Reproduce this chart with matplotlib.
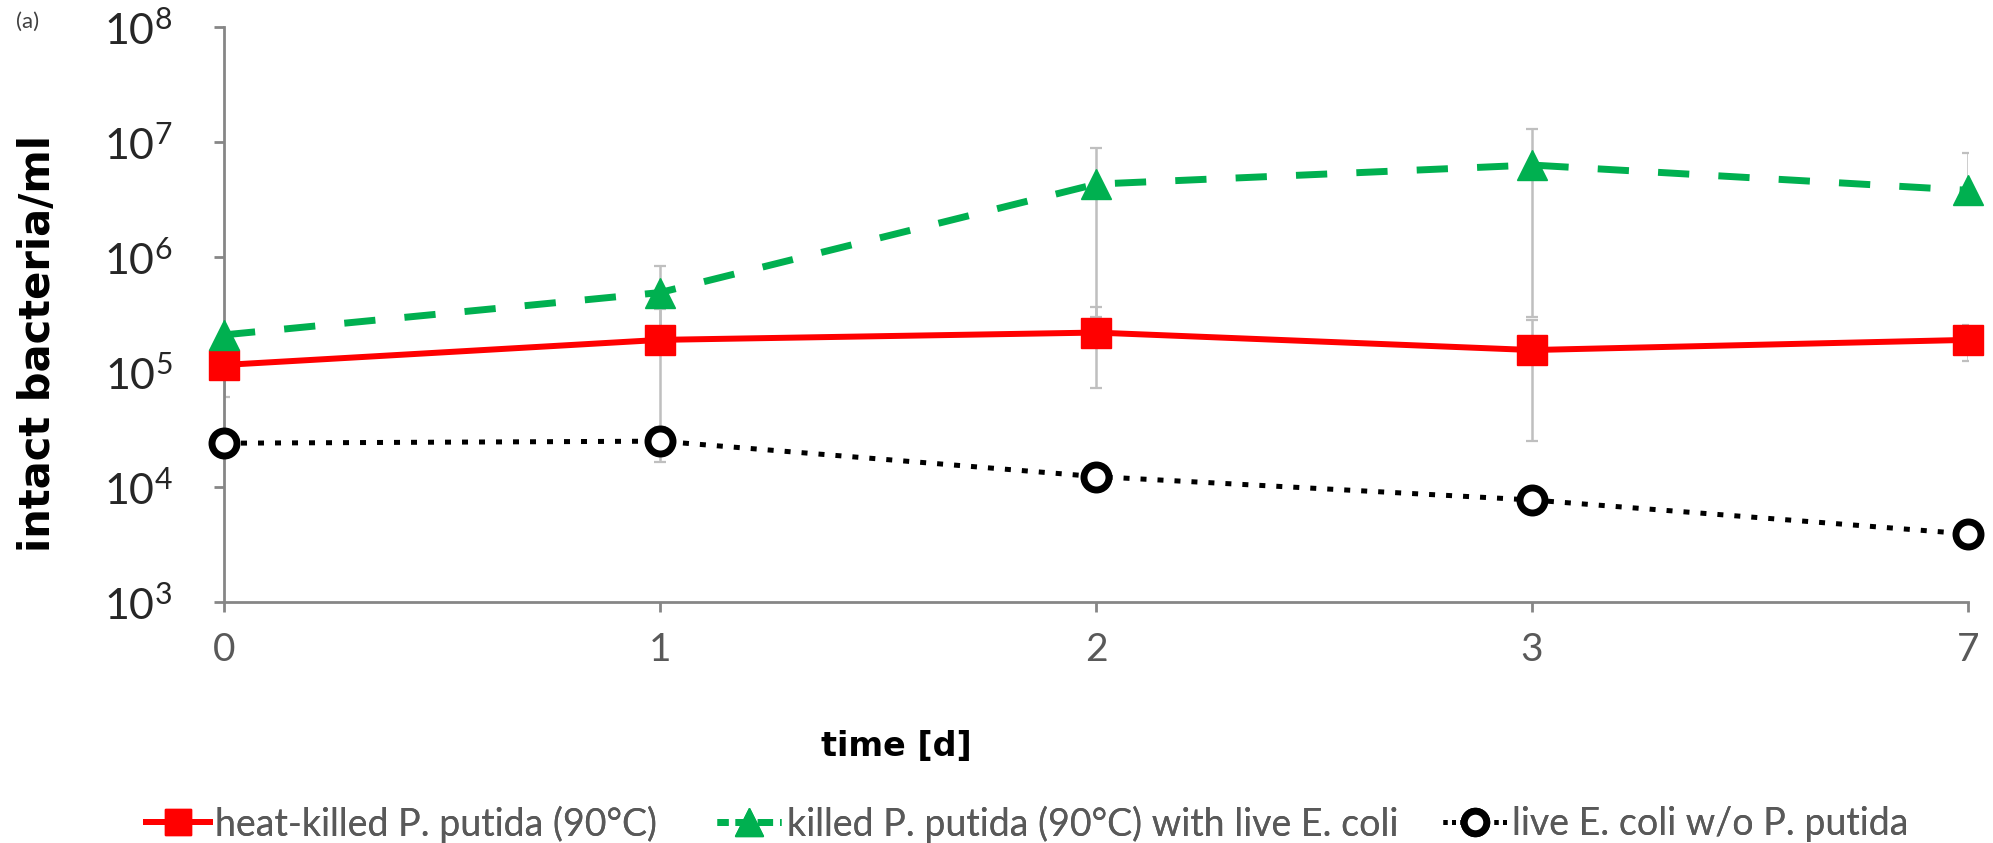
import matplotlib.pyplot as plt
from matplotlib.lines import Line2D
from matplotlib.ticker import FixedLocator

# data
days = ["0", "1", "2", "3", "7"]

heat_killed = [1.15e5, 1.9e5, 2.2e5, 1.55e5, 1.9e5]
heat_killed_err = [5.5e4, 1.65e5, 1.48e5, 1.3e5, 6.5e4]

with_ecoli = [2.1e5, 4.9e5, 4.3e6, 6.3e6, 3.8e6]
with_ecoli_err_lo = [0, 3.4e5, 4.0e6, 6.0e6, 0]
with_ecoli_err_hi = [0, 3.4e5, 4.6e6, 6.6e6, 4.2e6]

live_ecoli = [2.4e4, 2.5e4, 1.23e4, 7.7e3, 3.9e3]
live_ecoli_err = [0, 8.5e3, 0, 1.2e3, 0]

labels = ["heat-killed P. putida (90°C)",
          "killed P. putida (90°C) with live E. coli",
          "live E. coli w/o P. putida"]

plt.rcParams["font.family"] = ["Lato", "DejaVu Sans"]

fig = plt.figure(figsize=(19.93, 8.43), dpi=100)
ax = fig.add_axes([0.1124, 0.286, 0.875, 0.682])

x = list(range(len(days)))
err_kw = dict(fmt="none", ecolor="#BFBFBF", elinewidth=1.8, capsize=4, capthick=1.6, zorder=1)

ax.errorbar(x, heat_killed, yerr=heat_killed_err, **err_kw)
ax.errorbar(x, with_ecoli, yerr=[with_ecoli_err_lo, with_ecoli_err_hi], **err_kw)
ax.errorbar(x, live_ecoli, yerr=live_ecoli_err, **err_kw)

red_style = dict(color="#FF0000", lw=4.3, marker="s", ms=21, mec="#FF0000", mfc="#FF0000")
green_style = dict(color="#00B050", lw=5, marker="^", ms=22, mec="#00B050", mfc="#00B050")
black_style = dict(color="black", lw=3.6, marker="o", ms=18, mec="black", mfc="white", mew=5)

ax.plot(x, heat_killed, **red_style, zorder=3, clip_on=False)
ax.plot(x, with_ecoli, ls=(0, (4.5, 4.2)), **green_style, zorder=4, clip_on=False)
ax.plot(x, live_ecoli, ls=(0, (1.2, 2.2)), **black_style, zorder=5, clip_on=False)

ax.set_yscale("log")
ax.set_ylim(1e3, 1e8)
ax.set_xlim(0, len(days) - 1)
ax.yaxis.set_major_locator(FixedLocator([1e3, 1e4, 1e5, 1e6, 1e7, 1e8]))
ax.yaxis.set_minor_locator(FixedLocator([]))
ax.set_xticks(x)
ax.set_xticklabels(days)

for side in ["top", "right"]:
    ax.spines[side].set_visible(False)
for side in ["left", "bottom"]:
    ax.spines[side].set_color("#868686")
    ax.spines[side].set_linewidth(2)

ax.tick_params(axis="y", direction="out", length=7, width=2, color="#868686",
               labelsize=31, labelcolor="#262626", pad=30)
ax.tick_params(axis="x", direction="out", length=7, width=2, color="#868686",
               labelsize=28, labelcolor="#595959", pad=15)

fig.text(0.019, 0.593, "intact bacteria/ml", rotation=90, ha="center", va="center",
         fontsize=30, fontweight="bold", family="DejaVu Sans")
fig.text(0.4496, 0.114, "time [d]", ha="center", va="center",
         fontsize=24, fontweight="bold", family="DejaVu Sans")
fig.text(0.014, 0.974, "(a)", ha="center", va="center", fontsize=16, color="#404040")

# legend proxies with shorter dash patterns so the handles read like the original
handles = [
    Line2D([], [], **red_style),
    Line2D([], [], ls=(0.6, (2.2, 1.0)), **green_style),
    Line2D([], [], ls=(0, (0.8, 0.9)), **black_style),
]

# one legend per entry, placed like the original's uneven spacing
legend_x = [0.0733, 0.360, 0.724]
for handle, label, lx in zip(handles, labels, legend_x):
    leg = fig.legend([handle], [label], loc="center left", bbox_to_anchor=(lx, 0.0225),
                     frameon=False, fontsize=27, labelcolor="#595959", handlelength=1.7,
                     handletextpad=0.15, borderpad=0, borderaxespad=0, markerscale=0.9)
    fig.add_artist(leg)

fig.savefig("out.png", dpi=100)
